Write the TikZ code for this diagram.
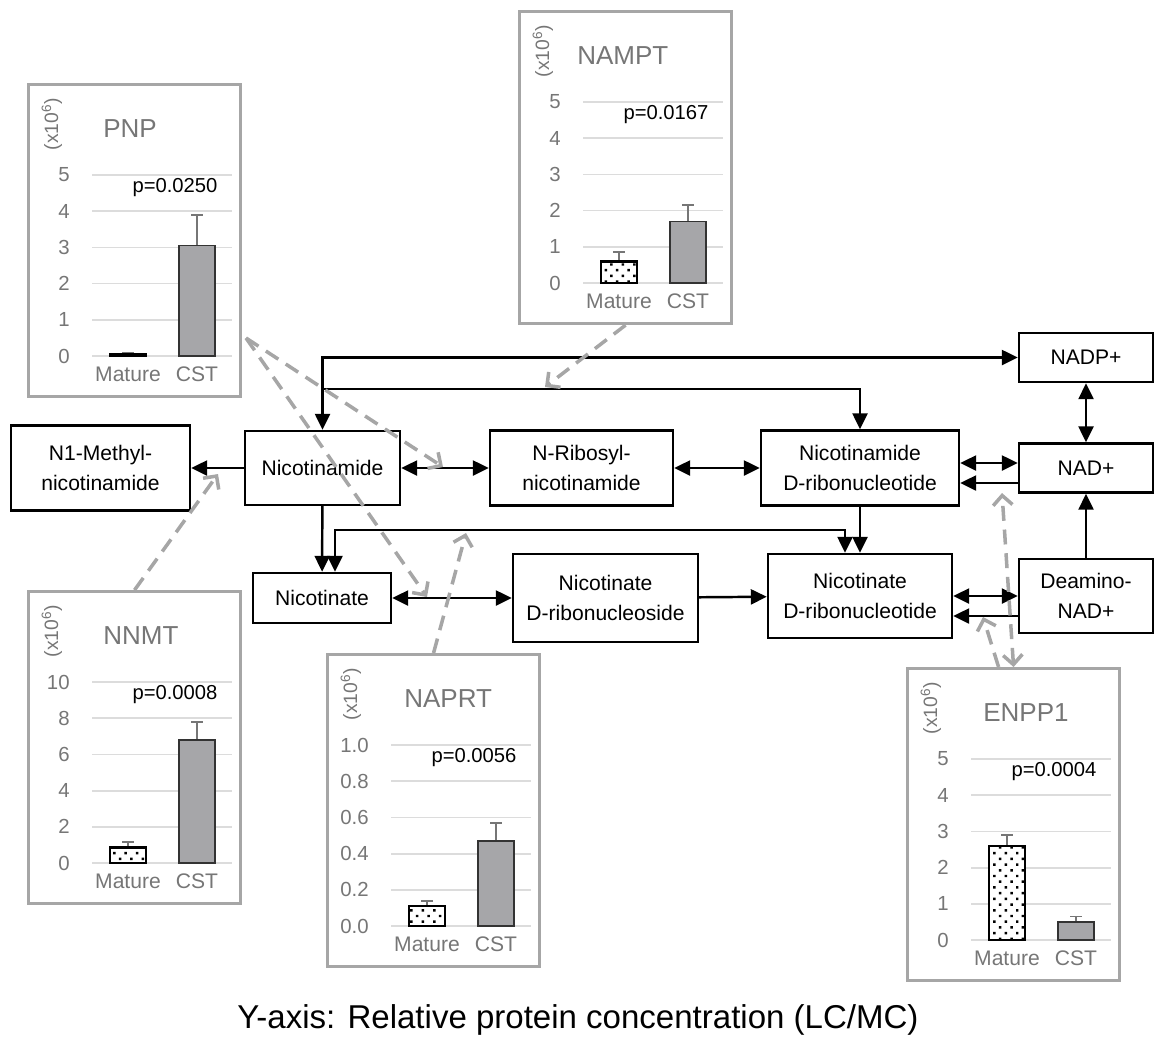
\documentclass[tikz,border=0pt]{standalone}
\usepackage{fontspec}
\setmainfont{Liberation Sans}
\usetikzlibrary{arrows.meta,patterns.meta}

\definecolor{framegray}{RGB}{166,166,166}
\definecolor{gridgray}{RGB}{220,220,220}
\definecolor{textgray}{RGB}{118,118,118}
\definecolor{bargray}{RGB}{166,166,169}

\tikzset{
  metab/.style={draw, line width=1.4pt, align=center, inner sep=1pt,
    font=\fontsize{12}{17}\selectfont},
  flow/.style={line width=1.4pt},
  chartframe/.style={draw=framegray, line width=1.8pt,
    minimum width=4.24cm, minimum height=6.24cm},
  gridline/.style={gridgray, line width=1pt},
  ticklabel/.style={text=textgray, inner sep=0pt, font=\fontsize{11.6}{13}\selectfont},
  charttitle/.style={text=textgray, inner sep=0pt, font=\fontsize{14.8}{17}\selectfont},
  barlabel/.style={text=textgray, inner sep=0pt, font=\fontsize{12}{14}\selectfont},
  pvalue/.style={inner sep=0pt, font=\fontsize{11.5}{13}\selectfont},
  ylabel/.style={text=textgray, inner sep=0pt, rotate=90, font=\fontsize{11}{13}\selectfont},
  maturebar/.style={draw=black, line width=1.4pt, preaction={fill=white},
    pattern={Dots[distance=4.6pt, angle=45, radius=1pt]}},
  cstbar/.style={draw=black!80, line width=0.8pt, fill=bargray},
  errbar/.style={textgray, line width=1pt},
  enzarrow/.style={draw=framegray, line width=2pt, dash pattern=on 8.5pt off 5pt,
    -{Straight Barb[length=5.5pt,width=11pt]}}
}

% bar chart: name, corner, title, title x, ticks, p-value, bars
\newcommand{\barchart}[7]{
  \node[chartframe, anchor=north west] (#1) at (#2) {};
  \begin{scope}[shift={(#1.north west)}]
    \foreach \lab/\f in {#5}{
      \draw[gridline] (65,{273-181*\f}) -- (205,{273-181*\f});
      \node[ticklabel, anchor=east] at (43,{273-181*\f}) {\lab};
    }
    \node[ylabel] at (25,41) {(x10\textsuperscript{6})};
    \node[charttitle, anchor=west] at (#4,46) {#3};
    \node[pvalue] at (148,105) {p=#6};
    \foreach \mv/\me/\cv/\ce in {#7}{
      \draw[errbar] (101,{273-181*\mv}) -- (101,{273-181*\me}) (95,{273-181*\me}) -- (107,{273-181*\me});
      \draw[errbar] (170,{273-181*\cv}) -- (170,{273-181*\ce}) (164,{273-181*\ce}) -- (176,{273-181*\ce});
      \draw[maturebar] (83,273) rectangle (119,{273-181*\mv});
      \draw[cstbar] (152,273) rectangle (188,{273-181*\cv});
    }
    \node[barlabel] at (101,291) {Mature};
    \node[barlabel] at (170,291) {CST};
  \end{scope}
}

\begin{document}
\begin{tikzpicture}[x=0.02cm, y=-0.02cm, >={Triangle[length=0.32cm,width=0.3cm]}]
  \useasboundingbox (0,0) rectangle (1155,1036);

  %Define nodes
  \node[metab, minimum width=3.58cm, minimum height=1.7cm] (mnam) at (100.5,468) {N1-Methyl-\\nicotinamide};
  \node[metab, minimum width=3.1cm, minimum height=1.48cm] (nam) at (322.5,468) {Nicotinamide};
  \node[metab, minimum width=3.66cm, minimum height=1.5cm] (nrib) at (581.5,468) {N-Ribosyl-\\nicotinamide};
  \node[metab, minimum width=3.96cm, minimum height=1.5cm] (nmn) at (860,468) {Nicotinamide\\D-ribonucleotide};
  \node[metab, minimum width=2.68cm, minimum height=0.98cm] (nadp) at (1086,357.5) {NADP+};
  \node[metab, minimum width=2.68cm, minimum height=0.98cm] (nad) at (1086,468) {NAD+};
  \node[metab, minimum width=2.76cm, minimum height=1cm] (nic) at (322,598) {Nicotinate};
  \node[metab, minimum width=3.7cm, minimum height=1.76cm] (nar) at (605.5,598) {Nicotinate\\D-ribonucleoside};
  \node[metab, minimum width=3.68cm, minimum height=1.68cm] (namn) at (860,596) {Nicotinate\\D-ribonucleotide};
  \node[metab, minimum width=2.68cm, minimum height=1.48cm] (dnad) at (1086,596) {Deamino-\\NAD+};

  % Connect the nodes
  \draw[flow, ->] (nam) -- (mnam);
  \draw[flow, <->] (nam) -- (nrib);
  \draw[flow, <->] (nrib) -- (nmn);
  \draw[flow, <->] ([yshift=0.1cm]nmn.east) -- ([yshift=0.1cm]nad.west);
  \draw[flow, ->] ([yshift=-0.3cm]nad.west) -- ([yshift=-0.3cm]nmn.east);
  \draw[flow, <->] (nadp) -- (nad);
  \draw[flow, ->] (dnad) -- (nad);
  \draw[flow, <->] (namn) -- (dnad);
  \draw[flow, ->] ([yshift=-0.4cm]dnad.west) -- ([yshift=-0.4cm]namn.east);
  \draw[flow, <->] (nam.north) |- (nadp.west);
  \coordinate (j1) at (322.5,389);
  \draw[flow, ->] (j1) -| (nmn.north);
  \draw[flow, ->] (nam) -- (nic);
  \draw[flow, <->] ([xshift=0.26cm]nic.north) -- ++(0,-42) -| ([xshift=-0.3cm]namn.north);
  \draw[flow, ->] (nmn) -- (namn);
  \draw[flow, <->] (nic) -- (nar);
  \draw[flow, ->] (nar) -- (namn);

  %Define charts
  \barchart{pnp}{27,83}{PNP}{76}{0/0,1/0.2,2/0.4,3/0.6,4/0.8,5/1}{0.0250}{0.008/0.016/0.61/0.78}
  \barchart{nampt}{518,10}{NAMPT}{59}{0/0,1/0.2,2/0.4,3/0.6,4/0.8,5/1}{0.0167}{0.12/0.17/0.34/0.43}
  \barchart{nnmt}{27,590}{NNMT}{76}{0/0,2/0.2,4/0.4,6/0.6,8/0.8,10/1}{0.0008}{0.085/0.115/0.68/0.78}
  \barchart{naprt}{326,653}{NAPRT}{78}{0.0/0,0.2/0.2,0.4/0.4,0.6/0.6,0.8/0.8,1.0/1}{0.0056}{0.11/0.14/0.47/0.57}
  \barchart{enpp1}{906,667}{ENPP1}{77}{0/0,1/0.2,2/0.4,3/0.6,4/0.8,5/1}{0.0004}{0.52/0.58/0.10/0.13}

  % Enzyme arrows
  \coordinate (pnpout) at (246,338);
  \coordinate (t1) at (443,467);
  \coordinate (t2) at (427,597);
  \coordinate (t3) at (545,387);
  \coordinate (t4) at (218,474);
  \coordinate (t5) at (466,533);
  \coordinate (t6) at (1002,493);
  \coordinate (t7) at (983,617);
  \draw[enzarrow] (pnpout) -- (t1);
  \draw[enzarrow] (pnpout) -- (t2);
  \draw[enzarrow] (nampt.south) -- (t3);
  \draw[enzarrow] (nnmt.north) -- (t4);
  \draw[enzarrow] (naprt.north) -- (t5);
  \draw[enzarrow, {Straight Barb[length=5.5pt,width=11pt]}-{Straight Barb[length=5.5pt,width=11pt]}] (enpp1.north) -- (t6);
  \draw[enzarrow] ([xshift=-0.3cm]enpp1.north) -- (t7);

  \node[font=\fontsize{18.8}{22}\selectfont, anchor=base, inner sep=0pt] (caption) at (578,1028) {Y-axis: Relative protein concentration (LC/MC)};
\end{tikzpicture}
\end{document}
